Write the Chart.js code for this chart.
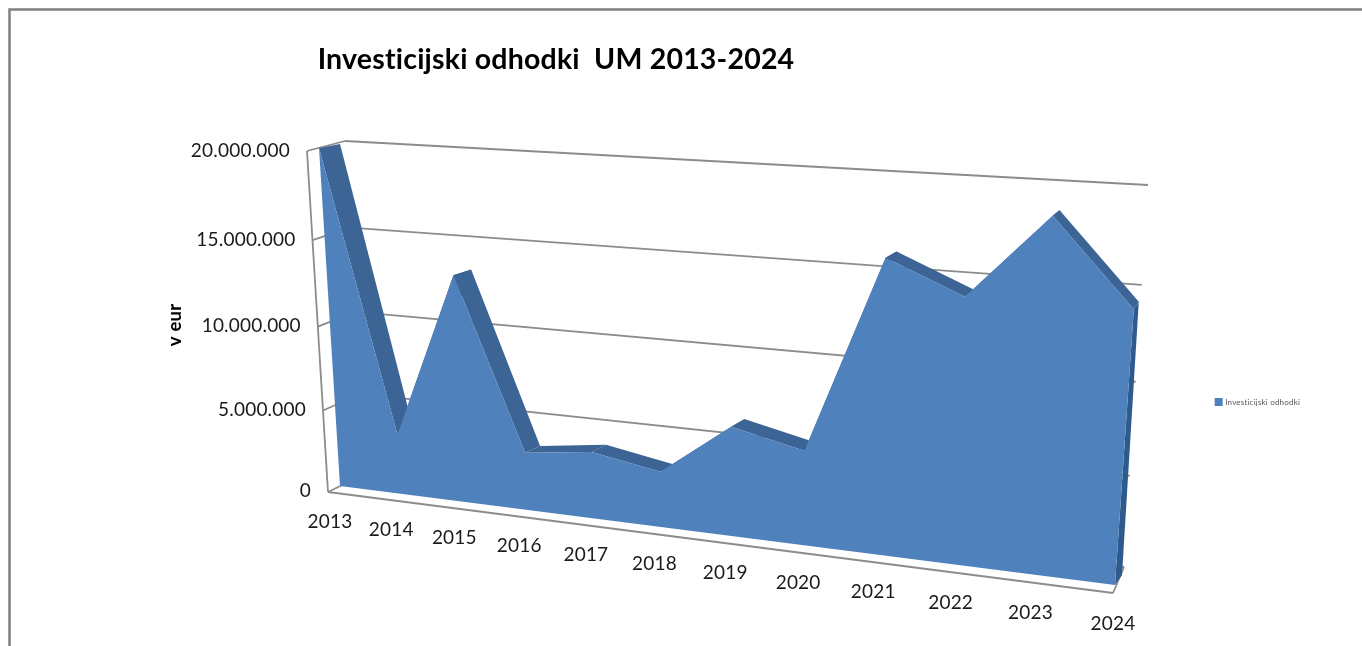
<!DOCTYPE html>
<html>
<head>
<meta charset="utf-8">
<style>
    html, body { margin: 0; padding: 0; background: #fff; }
    #chart-odhodki { display: block; }
</style>
<script src="https://cdn.jsdelivr.net/npm/chart.js@4"></script>
</head>
<body>
<div style="width:1362px;height:646px"><canvas id="chart-odhodki" width="1362" height="646"></canvas></div>
<script>
"use strict"

var years = ['2013', '2014', '2015', '2016', '2017', '2018', '2019', '2020', '2021', '2022', '2023', '2024']
var odhodki = [20000000, 3600000, 13300000, 3400000, 3900000, 3200000, 6200000, 5300000, 15900000, 14200000, 18500000, 14200000]
var seriesName = 'Investicijski odhodki'
var yMax = 20000000
var yStep = 5000000

// corners of the 3D box on screen: bottom left, bottom right, top right, top left
var outerPlane = [[328, 492], [1113, 593], [1146, 190], [307, 151]]
var wallPlane = [[365, 474], [1124, 567], [1148, 185], [345, 141]]
var frontPlane = [[340, 486], [1115, 585], [1142, 189], [319, 148]]
var rearPlane = [[355, 480], [1122, 575], [1146, 184], [340, 144]]

function homography(q) {
    var sx = q[0][0] - q[1][0] + q[2][0] - q[3][0]
    var sy = q[0][1] - q[1][1] + q[2][1] - q[3][1]
    var dx1 = q[1][0] - q[2][0], dx2 = q[3][0] - q[2][0]
    var dy1 = q[1][1] - q[2][1], dy2 = q[3][1] - q[2][1]
    var det = dx1 * dy2 - dx2 * dy1
    var g = (sx * dy2 - dx2 * sy) / det
    var h = (dx1 * sy - sx * dy1) / det
    var a = q[1][0] - q[0][0] + g * q[1][0]
    var b = q[3][0] - q[0][0] + h * q[3][0]
    var d = q[1][1] - q[0][1] + g * q[1][1]
    var e = q[3][1] - q[0][1] + h * q[3][1]
    return function (u, v) {
        var w = g * u + h * v + 1
        return [(a * u + b * v + q[0][0]) / w, (d * u + e * v + q[0][1]) / w]
    }
}

var outer = homography(outerPlane)
var wall = homography(wallPlane)
var front = homography(frontPlane)
var rear = homography(rearPlane)

function line(ctx, p1, p2) {
    ctx.beginPath()
    ctx.moveTo(p1[0], p1[1])
    ctx.lineTo(p2[0], p2[1])
    ctx.stroke()
}

function poly(ctx, pts, color) {
    ctx.fillStyle = color
    ctx.beginPath()
    pts.forEach(function (p, i) {
        if (i == 0) ctx.moveTo(p[0], p[1])
        else ctx.lineTo(p[0], p[1])
    })
    ctx.closePath()
    ctx.fill()
}

var area3d = {
    id: 'area3d',
    afterLayout: function (chart) {
        // the title sits left of the page centre, the legend low on the right
        chart.titleBlock.left = 0
        chart.titleBlock.right = 1112
        chart.legend.top = 395
        chart.legend.bottom = 409
    },
    beforeDraw: function (chart) {
        // small spacing also turns off the "ti" ligature of Lato
        chart.ctx.letterSpacing = '0.2px'
    },
    beforeDatasetsDraw: function (chart) {
        var ctx = chart.ctx
        var area = chart.chartArea
        var xs = chart.scales.x
        var ys = chart.scales.y
        var toU = function (px) { return (px - area.left) / (area.right - area.left) }
        var toV = function (px) { return (area.bottom - px) / (area.bottom - area.top) }

        ctx.save()

        // page frame
        ctx.strokeStyle = '#808080'
        ctx.lineWidth = 2.5
        ctx.strokeRect(9.5, 9.5, 1400, 700)

        // walls and floor
        ctx.strokeStyle = '#8c8c8c'
        ctx.lineWidth = 1.8
        ys.ticks.forEach(function (t) {
            var v = toV(ys.getPixelForValue(t.value))
            line(ctx, outer(0, v), wall(0, v))
            line(ctx, wall(0, v), wall(1, v))
        })
        line(ctx, outer(0, 0), outer(0, 1))
        line(ctx, outer(0, 0), outer(1, 0))
        line(ctx, outer(1, 0), wall(1, 0))

        // the area: rear band, right side, front face
        var pts = chart.getDatasetMeta(0).data.map(function (el) {
            return [toU(el.x), toV(el.y)]
        })
        var last = pts[pts.length - 1]
        for (var i = 0; i < pts.length - 1; i++) {
            var a = pts[i], b = pts[i + 1]
            poly(ctx, [front(a[0], a[1]), front(b[0], b[1]), rear(b[0], b[1]), rear(a[0], a[1])], '#3c6494')
        }
        poly(ctx, [front(last[0], last[1]), rear(last[0], last[1]), rear(last[0], 0), front(last[0], 0)], '#2f5a8e')
        var face = pts.map(function (p) { return front(p[0], p[1]) })
        face.push(front(last[0], 0))
        face.push(front(pts[0][0], 0))
        poly(ctx, face, '#4f81bd')

        // tick labels follow the box
        ctx.fillStyle = '#1a1a1a'
        ctx.font = '19px Lato'
        ctx.textAlign = 'right'
        ctx.textBaseline = 'middle'
        ys.ticks.forEach(function (t) {
            var v = toV(ys.getPixelForValue(t.value))
            var p = front(0, v)
            ctx.fillText(t.label, p[0] - 29, p[1] + 5 - 2 * v)
        })
        ctx.textAlign = 'center'
        xs.ticks.forEach(function (t, i) {
            var u = toU(xs.getPixelForTick(i))
            var p = front(u, 0)
            ctx.fillText(t.label, p[0] - 10 + 8 * u, p[1] + 35.5 + 3 * u)
        })

        // y axis title
        ctx.translate(175, 325)
        ctx.rotate(-Math.PI / 2)
        ctx.font = 'bold 18.5px Lato'
        ctx.fillStyle = '#000'
        ctx.fillText(ys.options.title.text, 0, 0)

        ctx.restore()
    }
}

var ctx = document.getElementById('chart-odhodki').getContext('2d')
var chartOdhodki = new Chart(ctx, {
    type: 'line',
    data: {
        labels: years,
        datasets: [{
            label: seriesName,
            data: odhodki,
            showLine: false,
            pointRadius: 0,
            backgroundColor: '#4f81bd',
            borderColor: '#4f81bd'
        }]
    },
    options: {
        responsive: false,
        animation: false,
        layout: { padding: { right: 56 } },
        plugins: {
            title: {
                display: true,
                text: 'Investicijski odhodki  UM 2013-2024',
                color: '#000',
                font: { family: 'Lato', size: 28.5, weight: 'bold' },
                padding: { top: 43, bottom: 10 }
            },
            legend: {
                position: 'right',
                labels: {
                    boxWidth: 5,
                    boxHeight: 5,
                    padding: 4,
                    color: '#555',
                    font: { family: 'Lato', size: 8 }
                }
            },
            tooltip: { enabled: false }
        },
        scales: {
            x: {
                offset: false,
                grid: { display: false },
                border: { display: false },
                ticks: { display: false }
            },
            y: {
                min: 0,
                max: yMax,
                title: { display: false, text: 'v eur' },
                grid: { display: false },
                border: { display: false },
                ticks: {
                    display: false,
                    stepSize: yStep,
                    callback: function (value) {
                        return String(value).replace(/\B(?=(\d{3})+$)/g, '.')
                    }
                }
            }
        }
    },
    plugins: [area3d]
})
</script>
</body>
</html>
